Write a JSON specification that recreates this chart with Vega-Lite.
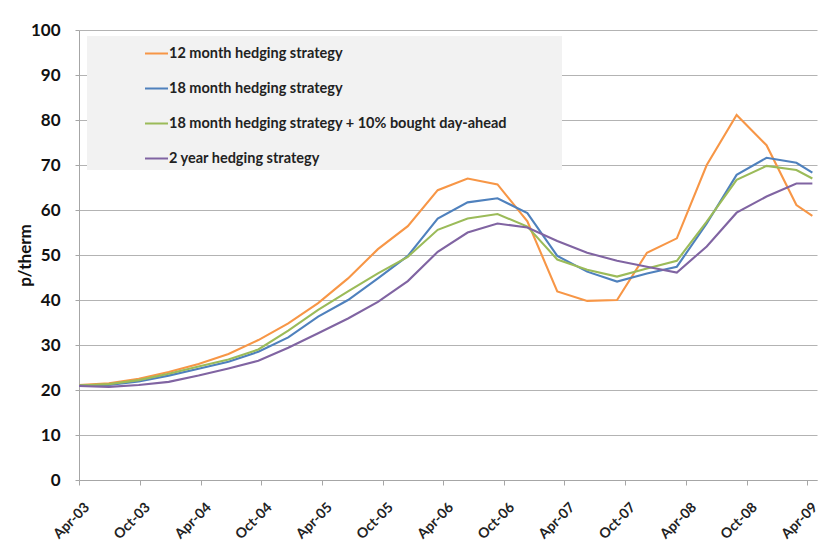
{
  "$schema": "https://vega.github.io/schema/vega-lite/v6.json",
  "width": 738,
  "height": 450,
  "autosize": {"type": "none"},
  "padding": {"left": 79, "top": 30, "right": 8, "bottom": 68},
  "background": "white",
  "config": {"view": {"stroke": null}, "font": "Lato"},
  "data": {"values": [
    {"date": "2003-04-01T00:00:00", "12 month hedging strategy": 21.1, "18 month hedging strategy": 21.0, "18 month hedging strategy + 10% bought day-ahead": 21.0, "2 year hedging strategy": 20.9},
    {"date": "2003-06-30T00:00:00", "12 month hedging strategy": 21.5, "18 month hedging strategy": 21.1, "18 month hedging strategy + 10% bought day-ahead": 21.3, "2 year hedging strategy": 20.7},
    {"date": "2003-09-28T00:00:00", "12 month hedging strategy": 22.5, "18 month hedging strategy": 21.9, "18 month hedging strategy + 10% bought day-ahead": 22.2, "2 year hedging strategy": 21.1},
    {"date": "2003-12-27T00:00:00", "12 month hedging strategy": 24.0, "18 month hedging strategy": 23.2, "18 month hedging strategy + 10% bought day-ahead": 23.6, "2 year hedging strategy": 21.8},
    {"date": "2004-03-26T00:00:00", "12 month hedging strategy": 25.8, "18 month hedging strategy": 24.7, "18 month hedging strategy + 10% bought day-ahead": 25.2, "2 year hedging strategy": 23.2},
    {"date": "2004-06-24T00:00:00", "12 month hedging strategy": 28.0, "18 month hedging strategy": 26.3, "18 month hedging strategy + 10% bought day-ahead": 26.8, "2 year hedging strategy": 24.8},
    {"date": "2004-09-22T00:00:00", "12 month hedging strategy": 31.1, "18 month hedging strategy": 28.5, "18 month hedging strategy + 10% bought day-ahead": 29.0, "2 year hedging strategy": 26.5},
    {"date": "2004-12-21T00:00:00", "12 month hedging strategy": 34.8, "18 month hedging strategy": 31.7, "18 month hedging strategy + 10% bought day-ahead": 33.2, "2 year hedging strategy": 29.4},
    {"date": "2005-03-21T00:00:00", "12 month hedging strategy": 39.3, "18 month hedging strategy": 36.3, "18 month hedging strategy + 10% bought day-ahead": 37.8, "2 year hedging strategy": 32.6},
    {"date": "2005-06-19T00:00:00", "12 month hedging strategy": 44.8, "18 month hedging strategy": 40.0, "18 month hedging strategy + 10% bought day-ahead": 41.9, "2 year hedging strategy": 35.9},
    {"date": "2005-09-17T00:00:00", "12 month hedging strategy": 51.3, "18 month hedging strategy": 44.8, "18 month hedging strategy + 10% bought day-ahead": 45.9, "2 year hedging strategy": 39.6},
    {"date": "2005-12-16T00:00:00", "12 month hedging strategy": 56.4, "18 month hedging strategy": 49.8, "18 month hedging strategy + 10% bought day-ahead": 49.6, "2 year hedging strategy": 44.2},
    {"date": "2006-03-16T00:00:00", "12 month hedging strategy": 64.4, "18 month hedging strategy": 58.1, "18 month hedging strategy + 10% bought day-ahead": 55.6, "2 year hedging strategy": 50.7},
    {"date": "2006-06-14T00:00:00", "12 month hedging strategy": 67.0, "18 month hedging strategy": 61.7, "18 month hedging strategy + 10% bought day-ahead": 58.1, "2 year hedging strategy": 55.0},
    {"date": "2006-09-12T00:00:00", "12 month hedging strategy": 65.7, "18 month hedging strategy": 62.6, "18 month hedging strategy + 10% bought day-ahead": 59.1, "2 year hedging strategy": 57.0},
    {"date": "2006-12-11T00:00:00", "12 month hedging strategy": 57.5, "18 month hedging strategy": 59.3, "18 month hedging strategy + 10% bought day-ahead": 56.3, "2 year hedging strategy": 56.1},
    {"date": "2007-03-11T00:00:00", "12 month hedging strategy": 41.9, "18 month hedging strategy": 49.8, "18 month hedging strategy + 10% bought day-ahead": 49.0, "2 year hedging strategy": 53.1},
    {"date": "2007-06-09T00:00:00", "12 month hedging strategy": 39.8, "18 month hedging strategy": 46.3, "18 month hedging strategy + 10% bought day-ahead": 46.7, "2 year hedging strategy": 50.5},
    {"date": "2007-09-07T00:00:00", "12 month hedging strategy": 40.0, "18 month hedging strategy": 44.1, "18 month hedging strategy + 10% bought day-ahead": 45.2, "2 year hedging strategy": 48.7},
    {"date": "2007-12-06T00:00:00", "12 month hedging strategy": 50.5, "18 month hedging strategy": 45.9, "18 month hedging strategy + 10% bought day-ahead": 47.0, "2 year hedging strategy": 47.4},
    {"date": "2008-03-05T00:00:00", "12 month hedging strategy": 53.7, "18 month hedging strategy": 47.4, "18 month hedging strategy + 10% bought day-ahead": 48.7, "2 year hedging strategy": 46.1},
    {"date": "2008-06-03T00:00:00", "12 month hedging strategy": 70.0, "18 month hedging strategy": 57.0, "18 month hedging strategy + 10% bought day-ahead": 57.4, "2 year hedging strategy": 51.9},
    {"date": "2008-09-01T00:00:00", "12 month hedging strategy": 81.1, "18 month hedging strategy": 67.8, "18 month hedging strategy + 10% bought day-ahead": 66.7, "2 year hedging strategy": 59.4},
    {"date": "2008-11-30T00:00:00", "12 month hedging strategy": 74.4, "18 month hedging strategy": 71.6, "18 month hedging strategy + 10% bought day-ahead": 69.8, "2 year hedging strategy": 63.0},
    {"date": "2009-02-28T00:00:00", "12 month hedging strategy": 61.1, "18 month hedging strategy": 70.5, "18 month hedging strategy + 10% bought day-ahead": 68.9, "2 year hedging strategy": 65.9},
    {"date": "2009-04-17T00:00:00", "12 month hedging strategy": 58.7, "18 month hedging strategy": 68.3, "18 month hedging strategy + 10% bought day-ahead": 67.0, "2 year hedging strategy": 65.9}
  ]},
  "transform": [
    {"fold": ["12 month hedging strategy", "18 month hedging strategy", "18 month hedging strategy + 10% bought day-ahead", "2 year hedging strategy"], "as": ["series", "value"]}
  ],
  "mark": {"type": "line", "strokeWidth": 2.1},
  "encoding": {
    "x": {
      "field": "date", "type": "temporal",
      "scale": {"domain": [{"year": 2003, "month": 4, "date": 1}, {"year": 2009, "month": 5, "date": 1}]},
      "axis": {
        "title": null, "format": "%b-%y",
        "values": [
          {"year": 2003, "month": 4, "date": 1}, {"year": 2003, "month": 10, "date": 1},
          {"year": 2004, "month": 4, "date": 1}, {"year": 2004, "month": 10, "date": 1},
          {"year": 2005, "month": 4, "date": 1}, {"year": 2005, "month": 10, "date": 1},
          {"year": 2006, "month": 4, "date": 1}, {"year": 2006, "month": 10, "date": 1},
          {"year": 2007, "month": 4, "date": 1}, {"year": 2007, "month": 10, "date": 1},
          {"year": 2008, "month": 4, "date": 1}, {"year": 2008, "month": 10, "date": 1},
          {"year": 2009, "month": 4, "date": 1}
        ],
        "labelAngle": -45, "labelAlign": "right", "labelBaseline": "middle",
        "labelFontSize": 14, "labelFontWeight": "bold", "labelColor": "#222222",
        "labelFlush": false, "labelOverlap": false, "labelPadding": 20, "labelOffset": 8,
        "grid": false, "domainColor": "#a6a6a6", "tickColor": "#a6a6a6", "tickSize": 5
      }
    },
    "y": {
      "field": "value", "type": "quantitative",
      "scale": {"domain": [0, 100], "nice": false},
      "axis": {
        "title": "p/therm", "values": [0, 10, 20, 30, 40, 50, 60, 70, 80, 90, 100],
        "labelFontSize": 17, "labelFontWeight": "bold", "labelColor": "#111111", "labelPadding": 15,
        "titleFontSize": 17, "titleFontWeight": "bold", "titleColor": "#111111",
        "titleX": -54, "titleBaseline": "middle",
        "gridColor": "#b3b3b3", "domainColor": "#a6a6a6", "tickColor": "#a6a6a6", "tickSize": 4
      }
    },
    "color": {
      "field": "series", "type": "nominal",
      "scale": {
        "domain": ["12 month hedging strategy", "18 month hedging strategy", "18 month hedging strategy + 10% bought day-ahead", "2 year hedging strategy"],
        "range": ["#F79646", "#4F81BD", "#9BBB59", "#8064A2"]
      },
      "legend": {
        "title": " ", "titleOrient": "right", "titlePadding": 50,
        "orient": "none", "legendX": 8, "legendY": 6,
        "fillColor": "#f2f2f2", "padding": 5,
        "symbolType": "stroke", "symbolSize": 529, "symbolStrokeWidth": 2,
        "symbolOffset": 52, "labelOffset": 0,
        "labelFontSize": 14.5, "labelFontWeight": "bold", "labelColor": "#222222",
        "labelLimit": 600, "rowPadding": 16
      }
    }
  }
}
